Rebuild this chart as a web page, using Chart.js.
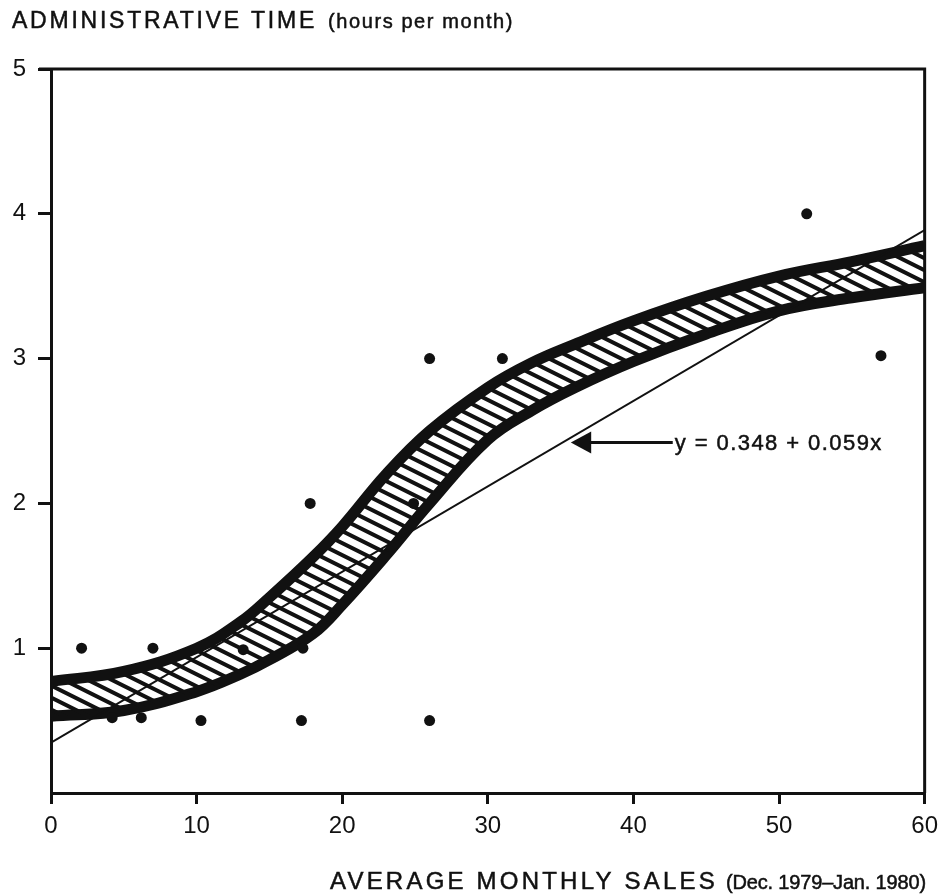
<!DOCTYPE html>
<html>
<head>
<meta charset="utf-8">
<script src="https://cdn.jsdelivr.net/npm/chart.js@4.4.1/dist/chart.umd.min.js"></script>
<style>
  html, body { margin: 0; padding: 0; background: #fff; }
  #wrap { width: 946px; height: 895px; }
</style>
</head>
<body>
<div id="wrap"><canvas id="chartAdmin" width="946" height="895"></canvas></div>
<script>
// observed stores: monthly sales vs admin hours
const salesX = [2.1, 4.2, 6.2, 7.0, 10.3, 13.2, 17.2, 17.3, 17.8, 24.9, 26.0, 26.0, 31.0, 51.9, 57.0];
const adminY = [1.0, 0.52, 0.52, 1.0, 0.5, 0.99, 0.5, 1.0, 2.0, 2.0, 3.0, 0.5, 3.0, 4.0, 3.02];

// hatched band (upper and lower edges)
const bandX = [0, 5, 10, 13, 15, 18, 20, 23, 26, 30, 33, 36, 40, 45, 50, 55, 60];
const bandUpper = [0.77, 0.84, 1.0, 1.18, 1.35, 1.63, 1.84, 2.2, 2.5, 2.8, 2.97, 3.1, 3.26, 3.43, 3.57, 3.67, 3.78];
const bandLower = [0.53, 0.57, 0.70, 0.82, 0.92, 1.1, 1.3, 1.64, 2.0, 2.44, 2.64, 2.8, 2.98, 3.17, 3.33, 3.42, 3.49];

// fitted line y = 0.348 + 0.059x, end points
const fitX = [0, 60];
const fitY = [0.348, 3.888];

const xTicks = [0, 10, 20, 30, 40, 50, 60];
const yTicks = [1, 2, 3, 4, 5];

const FONT = '"Liberation Sans", Arial, sans-serif';
const INK = '#111';

function pts(xs, ys) {
    return xs.map((x, i) => ({ x: x, y: ys[i] }));
}

function makeHatch() {
    let c = document.createElement('canvas');
    c.width = 24;
    c.height = 12;
    let g = c.getContext('2d');
    g.strokeStyle = INK;
    g.lineWidth = 4;
    [-12, 0, 12].forEach((dy) => {
        g.beginPath();
        g.moveTo(-24, dy - 12);
        g.lineTo(48, dy + 24);
        g.stroke();
    });
    return g.createPattern(c, 'repeat');
}

// text stretched to a width with letter spacing, thin stroke for a heavier print look
function fitText(ctx, text, x, y, width) {
    ctx.letterSpacing = '0px';
    let w = ctx.measureText(text).width;
    let s = width ? (width - w) / text.length : 0;
    ctx.letterSpacing = s.toFixed(2) + 'px';
    ctx.fillText(text, x, y);
    ctx.strokeText(text, x, y);
    ctx.letterSpacing = '0px';
}

const framePlugin = {
    id: 'frame',
    afterDatasetsDraw(chart) {
        let ctx = chart.ctx;
        let a = chart.chartArea;
        let xs = chart.scales.x;
        let ys = chart.scales.y;
        ctx.save();
        ctx.strokeStyle = INK;
        ctx.lineWidth = 3;
        // top and right border
        ctx.beginPath();
        ctx.moveTo(a.left - 12, a.top);
        ctx.lineTo(a.right, a.top);
        ctx.lineTo(a.right, a.bottom);
        ctx.stroke();

        // arrow annotation
        let tipX = xs.getPixelForValue(35.7);
        let yy = ys.getPixelForValue(2.42);
        let baseX = xs.getPixelForValue(37.1);
        let endX = xs.getPixelForValue(42.7);
        ctx.fillStyle = INK;
        ctx.beginPath();
        ctx.moveTo(tipX, yy);
        ctx.lineTo(baseX, yy - 11);
        ctx.lineTo(baseX, yy + 11);
        ctx.closePath();
        ctx.fill();
        ctx.lineWidth = 3;
        ctx.beginPath();
        ctx.moveTo(baseX - 2, yy);
        ctx.lineTo(endX, yy);
        ctx.stroke();

        ctx.lineWidth = 0.5;
        ctx.font = '22px ' + FONT;
        ctx.textBaseline = 'middle';
        ctx.textAlign = 'left';
        fitText(ctx, 'y = 0.348 + 0.059x', endX + 2, yy + 1, 208);

        // axis titles
        ctx.textBaseline = 'alphabetic';
        ctx.font = '23px ' + FONT;
        fitText(ctx, 'ADMINISTRATIVE TIME', 12, 28, 305);
        ctx.font = '20px ' + FONT;
        fitText(ctx, '(hours per month)', 328, 28, 186);
        ctx.font = '24px ' + FONT;
        fitText(ctx, 'AVERAGE MONTHLY SALES', 330, 889, 388);
        ctx.font = '20px ' + FONT;
        fitText(ctx, '(Dec. 1979\u2013Jan. 1980)', 726, 889, 200);
        ctx.restore();
    }
};

window.addEventListener('load', function() {
    let ctx = document.getElementById('chartAdmin');
    let hatch = makeHatch();

    new Chart(ctx, {
        type: 'scatter',
        data: {
            datasets: [{
                label: 'stores',
                data: pts(salesX, adminY),
                backgroundColor: INK,
                borderColor: INK,
                pointRadius: 5.5,
                pointBorderWidth: 0
            }, {
                label: 'fit',
                data: pts(fitX, fitY),
                showLine: true,
                borderColor: INK,
                borderWidth: 2,
                pointRadius: 0
            }, {
                label: 'upper',
                data: pts(bandX, bandUpper),
                showLine: true,
                borderColor: INK,
                borderWidth: 11,
                tension: 0.4,
                pointRadius: 0,
                fill: '+1',
                backgroundColor: hatch
            }, {
                label: 'lower',
                data: pts(bandX, bandLower),
                showLine: true,
                borderColor: INK,
                borderWidth: 11,
                tension: 0.4,
                pointRadius: 0
            }]
        },
        options: {
            responsive: false,
            animation: false,
            events: [],
            layout: { padding: { top: 69, right: 20, left: 0, bottom: 0 } },
            plugins: {
                legend: { display: false },
                tooltip: { enabled: false }
            },
            scales: {
                x: {
                    type: 'linear',
                    min: 0,
                    max: 60,
                    afterBuildTicks: (s) => { s.ticks = xTicks.map(v => ({ value: v })); },
                    afterFit: (s) => { s.height = 102; },
                    border: { color: INK, width: 3 },
                    grid: { drawOnChartArea: false, color: INK, tickLength: 11, lineWidth: 3 },
                    ticks: { color: INK, padding: 8, font: { family: FONT, size: 24 } }
                },
                y: {
                    type: 'linear',
                    min: 0,
                    max: 5,
                    afterBuildTicks: (s) => { s.ticks = yTicks.map(v => ({ value: v })); },
                    afterFit: (s) => { s.width = 51; },
                    border: { color: INK, width: 3 },
                    grid: { drawOnChartArea: false, color: INK, tickLength: 13, lineWidth: 3 },
                    ticks: { color: INK, padding: 12, font: { family: FONT, size: 24 } }
                }
            }
        },
        plugins: [framePlugin]
    });
});
</script>
</body>
</html>
